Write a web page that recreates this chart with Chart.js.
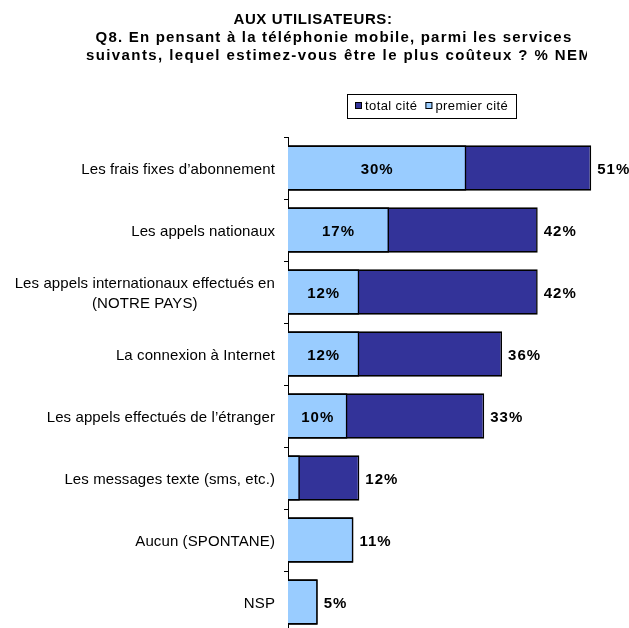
<!DOCTYPE html>
<html>
<head>
<meta charset="utf-8">
<script src="https://cdn.jsdelivr.net/npm/chart.js@4/dist/chart.umd.min.js"></script>
<style>
  html, body { margin: 0; padding: 0; background: #fff; overflow: hidden; }
  canvas { display: block; }
</style>
</head>
<body>
<canvas id="c" width="629" height="640" style="width:629px;height:640px"></canvas>
<script>
const titleLines = [
  "AUX UTILISATEURS:",
  "Q8. En pensant à la téléphonie mobile, parmi les services",
  "suivants, lequel estimez-vous être le plus coûteux ? % NEM"
];
const categories = [
  "Les frais fixes d’abonnement",
  "Les appels nationaux",
  ["Les appels internationaux effectués en", "(NOTRE PAYS)"],
  "La connexion à Internet",
  "Les appels effectués de l’étranger",
  "Les messages texte (sms, etc.)",
  "Aucun (SPONTANE)",
  "NSP"
];
const seriesNames = ["total cité", "premier cité"];
const totalCite   = [51, 42, 42, 36, 33, 12, 11, 5];
const premierCite = [30, 17, 12, 12, 10, 2, 11, 5];
const xMax = 55;

const FONT = '"Liberation Sans", Arial, sans-serif';

const decor = {
  id: 'decor',
  afterDraw(chart) {
    const ctx = chart.ctx;
    const xs = chart.scales.x, ys = chart.scales.y;
    ctx.save();
    ctx.fillStyle = '#000';
    ctx.textBaseline = 'alphabetic';

    // Title
    ctx.font = 'bold 15px ' + FONT;
    ctx.textAlign = 'center';
    ctx.letterSpacing = '0.6px';
    ctx.fillText(titleLines[0], 313, 23.5);
    ctx.letterSpacing = '1.2px';
    ctx.fillText(titleLines[1], 334, 41.5);
    ctx.save();
    ctx.beginPath();
    ctx.rect(0, 0, 587, 80);
    ctx.clip();
    ctx.textAlign = 'left';
    ctx.letterSpacing = '1.4px';
    ctx.fillText(titleLines[2], 86, 59.5);
    ctx.restore();

    // Legend
    ctx.font = '13px ' + FONT;
    ctx.letterSpacing = '0.4px';
    ctx.textAlign = 'left';
    ctx.lineWidth = 1;
    ctx.strokeStyle = '#000';
    ctx.strokeRect(347.5, 94.5, 169, 24);
    let lx = 355;
    chart.data.datasets.forEach(ds => {
      ctx.fillStyle = ds.backgroundColor;
      ctx.fillRect(lx, 102, 7, 7);
      ctx.strokeRect(lx + 0.5, 102.5, 6, 6);
      ctx.fillStyle = '#000';
      ctx.fillText(ds.label, lx + 10, 110);
      lx += 10 + ctx.measureText(ds.label).width + 8;
    });

    // Category labels
    ctx.font = '15px ' + FONT;
    ctx.letterSpacing = '0.1px';
    const rightEdge = 275;
    chart.data.labels.forEach((lab, i) => {
      const cy = ys.getPixelForValue(i);
      const lines = Array.isArray(lab) ? lab : [lab];
      const lh = 20;
      const startBase = cy + 6 - (lines.length - 1) * lh / 2;
      if (lines.length === 1) {
        ctx.textAlign = 'right';
        ctx.fillText(lines[0], rightEdge, startBase);
      } else {
        const maxW = Math.max(...lines.map(l => ctx.measureText(l).width));
        ctx.textAlign = 'center';
        lines.forEach((l, k) => ctx.fillText(l, rightEdge - maxW / 2, startBase + k * lh));
      }
    });

    // Value labels
    ctx.font = 'bold 15px ' + FONT;
    ctx.letterSpacing = '1px';
    const x0 = xs.getPixelForValue(0);
    for (let i = 0; i < categories.length; i++) {
      const cy = ys.getPixelForValue(i) + 5.5;
      const t = totalCite[i], p = premierCite[i];
      if (p != null && t != null && p < t && p >= 5) {
        ctx.textAlign = 'center';
        ctx.fillText(p + '%', (x0 + xs.getPixelForValue(p)) / 2, cy);
      }
      const outer = Math.max(t ?? 0, p ?? 0);
      ctx.textAlign = 'left';
      ctx.fillText(outer + '%', xs.getPixelForValue(outer) + 6, cy);
    }
    ctx.restore();
  }
};

new Chart(document.getElementById('c'), {
  type: 'bar',
  data: {
    labels: categories,
    datasets: [
      {
        label: seriesNames[0], data: totalCite,
        backgroundColor: '#333399', borderColor: '#000', borderWidth: 1.6,
        grouped: false, order: 2, barPercentage: 0.73, categoryPercentage: 1
      },
      {
        label: seriesNames[1], data: premierCite,
        backgroundColor: '#99CCFF', borderColor: '#000', borderWidth: 1.6,
        grouped: false, order: 1, barPercentage: 0.73, categoryPercentage: 1
      }
    ]
  },
  options: {
    indexAxis: 'y',
    responsive: false,
    animation: false,
    layout: { padding: { top: 137, right: 14, bottom: 7, left: 0 } },
    plugins: { legend: { display: false }, title: { display: false }, tooltip: { enabled: false } },
    scales: {
      x: { display: false, min: 0, max: xMax },
      y: {
        grid: { drawOnChartArea: false, tickLength: 4, color: '#000', lineWidth: 1, offset: true },
        border: { color: '#000', width: 1 },
        ticks: { display: false },
        afterFit(s) { s.width = 288; }
      }
    }
  },
  plugins: [decor]
});
</script>
</body>
</html>
